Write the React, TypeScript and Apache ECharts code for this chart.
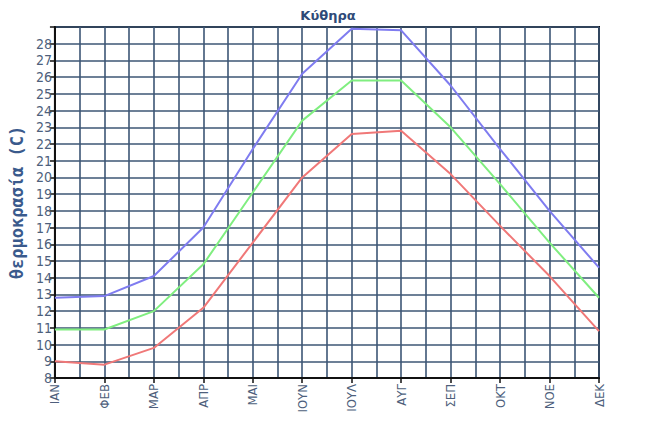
import React, { useEffect, useRef } from "react";
import * as echarts from "echarts";

const months = ["ΙΑΝ", "ΦΕΒ", "ΜΑΡ", "ΑΠΡ", "ΜΑΙ", "ΙΟΥΝ", "ΙΟΥΛ", "ΑΥΓ", "ΣΕΠ", "ΟΚΤ", "ΝΟΕ", "ΔΕΚ"];
const maxTemp = [12.8, 12.9, 14.1, 17.0, 21.7, 26.2, 28.9, 28.8, 25.5, 21.7, 18.0, 14.6];
const meanTemp = [10.9, 10.9, 12.0, 14.8, 19.1, 23.4, 25.8, 25.8, 23.0, 19.6, 16.1, 12.8];
const minTemp = [9.0, 8.8, 9.8, 12.2, 16.1, 20.0, 22.6, 22.8, 20.2, 17.1, 14.1, 10.8];

const toPts = (arr: number[]) => arr.map((v, i) => [i, v]);

export default function App() {
  const ref = useRef<HTMLDivElement>(null);
  useEffect(() => {
    if (!ref.current) return;
    const chart = echarts.init(ref.current, null, { renderer: "svg" });
    const gridColor = "#3d5675";
    const labelColor = "#4e5f7c";
    const font = "'Liberation Sans Narrow', 'DejaVu Sans Condensed', 'Liberation Sans', sans-serif";
    chart.setOption({
      animation: false,
      backgroundColor: "#ffffff",
      title: {
        text: "Κύθηρα",
        left: 323,
        textAlign: "center",
        top: 4,
        textStyle: { color: "#2e4a78", fontSize: 13, fontWeight: "bold", fontFamily: "'DejaVu Sans', sans-serif" },
      },
      grid: {
        left: 48,
        right: 54,
        top: 27,
        bottom: 48,
        show: true,
        borderColor: "#111",
        borderWidth: 2,
        backgroundColor: "transparent",
      },
      xAxis: {
        type: "value",
        min: 0,
        max: 11,
        interval: 1,
        axisLine: { show: true, lineStyle: { color: "#111", width: 2 } },
        axisTick: { show: true, length: 5, lineStyle: { color: "#111", width: 1.5 } },
        minorTick: { show: false, splitNumber: 2 },
        splitLine: { show: true, lineStyle: { color: gridColor, width: 1.6 } },
        minorSplitLine: { show: true, lineStyle: { color: gridColor, width: 1.6 } },
        axisLabel: {
          rotate: 90,
          color: labelColor,
          fontSize: 13,
          fontFamily: font,
          margin: 6,
          formatter: (v: number) => (Number.isInteger(v) ? months[v] : ""),
        },
      },
      yAxis: {
        type: "value",
        min: 8,
        max: 29,
        interval: 1,
        name: "θερμοκρασία (C)",
        nameLocation: "middle",
        nameGap: 29,
        nameRotate: 90,
        nameTextStyle: { color: "#3a5a8c", fontSize: 17, fontWeight: "bold", fontFamily: "'DejaVu Sans Mono', monospace" },
        axisLine: { show: true, lineStyle: { color: "#111", width: 2 } },
        axisTick: { show: true, length: 5, lineStyle: { color: "#111", width: 1.5 } },
        splitLine: { show: true, lineStyle: { color: gridColor, width: 1.6 } },
        axisLabel: {
          color: labelColor,
          fontSize: 14,
          lineHeight: 14,
          fontFamily: font,
          margin: 3,
          formatter: (v: number) => (v >= 29 ? "" : String(v)),
        },
      },
      series: [
        {
          type: "line",
          data: toPts(maxTemp),
          symbol: "none",
          lineStyle: { color: "#7f7cf0", width: 2 },
        },
        {
          type: "line",
          data: toPts(meanTemp),
          symbol: "none",
          lineStyle: { color: "#80ee80", width: 2 },
        },
        {
          type: "line",
          data: toPts(minTemp),
          symbol: "none",
          lineStyle: { color: "#f07878", width: 2 },
        },
      ],
    });
    return () => chart.dispose();
  }, []);
  return <div ref={ref} style={{ position: "fixed", left: 0, top: 0, width: 653, height: 426 }} />;
}
